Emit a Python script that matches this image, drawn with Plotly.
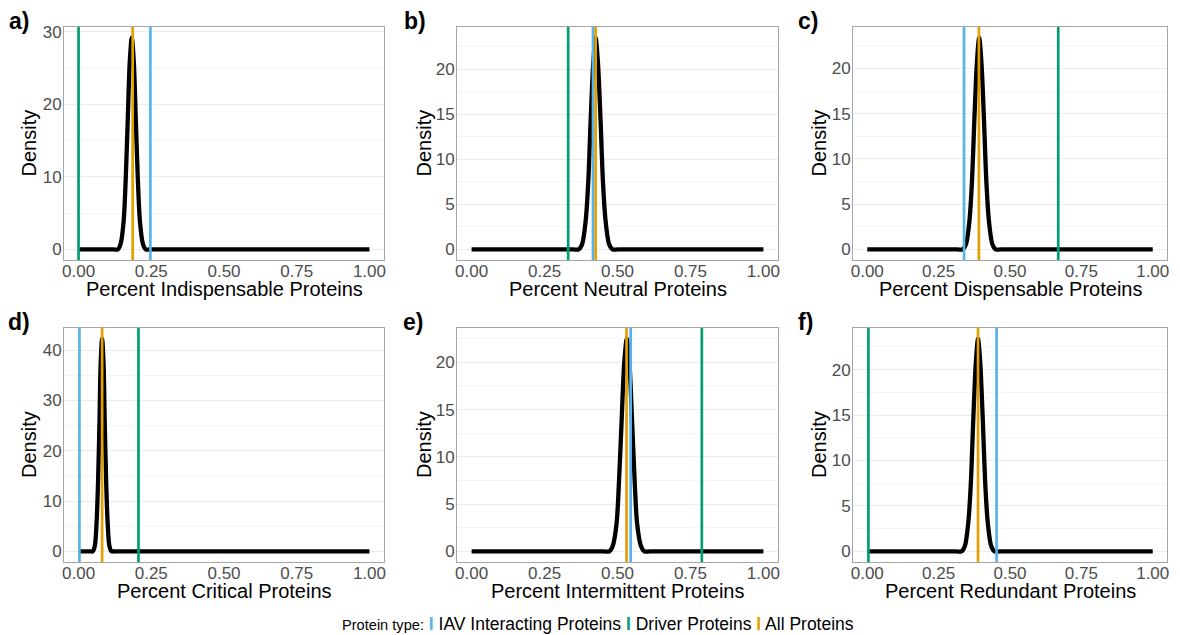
import plotly.graph_objects as go

# ---------------- data ----------------
panel_labels = ["a)", "b)", "c)", "d)", "e)", "f)"]
x_titles = ["Percent Indispensable Proteins", "Percent Neutral Proteins",
            "Percent Dispensable Proteins", "Percent Critical Proteins",
            "Percent Intermittent Proteins", "Percent Redundant Proteins"]
y_title = "Density"
legend_title = "Protein type:"
legend_names = ["IAV Interacting Proteins", "Driver Proteins", "All Proteins"]

dens_a_x = [0, .120, .135, .145, .155, .162, .169, .176, .183, .190, .197, .204, .211, .221, .231, .246, 1]
dens_a_y = [0, 0, 0, .8, 3.9, 9.5, 17.7, 25.8, 29.2, 25.8, 17.7, 9.5, 3.9, .8, 0, 0, 0]
dens_b_x = [0, .348, .367, .379, .391, .400, .408, .417, .425, .433, .442, .450, .459, .471, .483, .502, 1]
dens_b_y = [0, 0, 0, .6, 3.2, 7.6, 14.3, 20.7, 23.5, 20.7, 14.3, 7.6, 3.2, .6, 0, 0, 0]
dens_c_x = [0, .315, .334, .346, .358, .367, .375, .384, .392, .400, .409, .417, .426, .438, .450, .469, 1]
dens_c_y = [0, 0, 0, .6, 3.2, 7.6, 14.2, 20.6, 23.4, 20.6, 14.2, 7.6, 3.2, .6, 0, 0, 0]
dens_d_x = [0, .039, .049, .056, .062, .067, .072, .076, .081, .086, .090, .095, .100, .106, .113, .123, 1]
dens_d_y = [0, 0, 0, 1.1, 5.7, 13.7, 25.7, 37.3, 42.3, 37.3, 25.7, 13.7, 5.7, 1.1, 0, 0, 0]
dens_e_x = [0, .452, .472, .484, .497, .505, .514, .523, .532, .541, .550, .559, .567, .580, .592, .612, 1]
dens_e_y = [0, 0, 0, .6, 3.0, 7.3, 13.7, 19.9, 22.5, 19.9, 13.7, 7.3, 3.0, .6, 0, 0, 0]
dens_f_x = [0, .311, .330, .342, .354, .363, .371, .380, .388, .396, .405, .413, .422, .434, .446, .465, 1]
dens_f_y = [0, 0, 0, .6, 3.2, 7.6, 14.2, 20.6, 23.4, 20.6, 14.2, 7.6, 3.2, .6, 0, 0, 0]

iav_values = [0.247, 0.416, 0.339, 0.003, 0.545, 0.453]
driver_values = [0.0, 0.331, 0.669, 0.206, 0.789, 0.004]
all_values = [0.186, 0.425, 0.391, 0.081, 0.531, 0.388]

y_dticks = [10, 5, 5, 10, 5, 5]
x_tickvals = [0, 0.25, 0.5, 0.75, 1.0]

# ---------------- styles ----------------
W, H = 1180, 635
FONT = "Liberation Sans, Arial, Helvetica, sans-serif"
C_IAV, C_DRV, C_ALL = "#56B4E9", "#009E73", "#E69F00"
legend_colors = [C_IAV, C_DRV, C_ALL]

dens_x = [dens_a_x, dens_b_x, dens_c_x, dens_d_x, dens_e_x, dens_f_x]
dens_y = [dens_a_y, dens_b_y, dens_c_y, dens_d_y, dens_e_y, dens_f_y]

col_px = [(64, 384), (457, 778), (853, 1167)]
row_px = [(27, 260), (328, 562)]
ytitle_x = [29, 424, 819]
xtitle_y = [289, 591]
label_pos = [(8, 21), (403, 21), (797, 21), (7, 322), (402, 322), (797, 322)]

fig = go.Figure()
annotations = []
shapes = []
layout = {}

for i in range(6):
    r, c = divmod(i, 3)
    ax = "" if i == 0 else str(i + 1)
    xa, ya = "x" + ax, "y" + ax
    fig.add_trace(go.Scatter(x=dens_x[i], y=dens_y[i], mode="lines",
                             line=dict(color="black", width=4.3, shape="spline", smoothing=0.8),
                             xaxis=xa, yaxis=ya, showlegend=False, hoverinfo="skip"))
    ymax = max(dens_y[i])
    x0, x1 = col_px[c]
    t, b = row_px[r]
    layout["xaxis" + ax] = dict(
        domain=[x0 / W, x1 / W], anchor=ya, range=[-0.05, 1.05],
        tickvals=x_tickvals, tickformat=".2f", showgrid=False, zeroline=False,
        showline=True, mirror=True, linecolor="#a6a6a6", linewidth=1,
        ticks="", tickfont=dict(family=FONT, size=17, color="#4d4d4d"),
        ticklabelstandoff=-4, automargin=False, fixedrange=True)
    layout["yaxis" + ax] = dict(
        domain=[(H - b) / H, (H - t) / H], anchor=xa,
        range=[-0.05 * ymax, 1.05 * ymax], dtick=y_dticks[i], tick0=0,
        showgrid=True, gridcolor="#ebebeb", gridwidth=1, zeroline=False,
        minor=dict(dtick=y_dticks[i] / 2, tick0=0, showgrid=True, gridcolor="#f4f4f4", gridwidth=0.6),
        showline=True, mirror=True, linecolor="#a6a6a6", linewidth=1,
        ticks="", tickfont=dict(family=FONT, size=17, color="#4d4d4d"),
        ticklabelstandoff=-2, automargin=False, fixedrange=True)
    for val, col in ((iav_values[i], C_IAV), (driver_values[i], C_DRV), (all_values[i], C_ALL)):
        shapes.append(dict(type="line", xref=xa, yref=ya + " domain", x0=val, x1=val, y0=0, y1=1,
                           line=dict(color=col, width=2.7), layer="above"))
    lx, ly = label_pos[i]
    annotations.append(dict(text="<b>" + panel_labels[i] + "</b>", xref="paper", yref="paper",
                            x=lx / W, y=(H - ly) / H, xanchor="left", yanchor="middle",
                            showarrow=False, borderpad=0,
                            font=dict(family=FONT, size=23, color="black")))
    # axis titles
    annotations.append(dict(text=x_titles[i], xref="paper", yref="paper",
                            x=(x0 + x1) / 2 / W, y=(H - xtitle_y[r]) / H,
                            xanchor="center", yanchor="middle", showarrow=False, borderpad=0,
                            font=dict(family=FONT, size=20, color="black")))
    annotations.append(dict(text=y_title, xref="paper", yref="paper", textangle=-90,
                            x=ytitle_x[c] / W, y=(H - (t + b) / 2) / H,
                            xanchor="center", yanchor="middle", showarrow=False, borderpad=0,
                            font=dict(family=FONT, size=20, color="black")))

legend_text = f"<span style='font-size:14.6px'>{legend_title}</span>"
for name, col in zip(legend_names, legend_colors):
    legend_text += f" <span style='color:{col}'><b>I</b></span> {name}"
annotations.append(dict(text=legend_text, xref="paper", yref="paper", x=598 / W, y=(H - 624) / H,
                        xanchor="center", yanchor="middle", showarrow=False, borderpad=0,
                        font=dict(family=FONT, size=17.5, color="black")))

fig.update_layout(width=W, height=H, margin=dict(l=0, r=0, t=0, b=0),
                  paper_bgcolor="white", plot_bgcolor="white",
                  annotations=annotations, shapes=shapes, showlegend=False, **layout)

fig.write_html("out.html", config={"displayModeBar": False})
